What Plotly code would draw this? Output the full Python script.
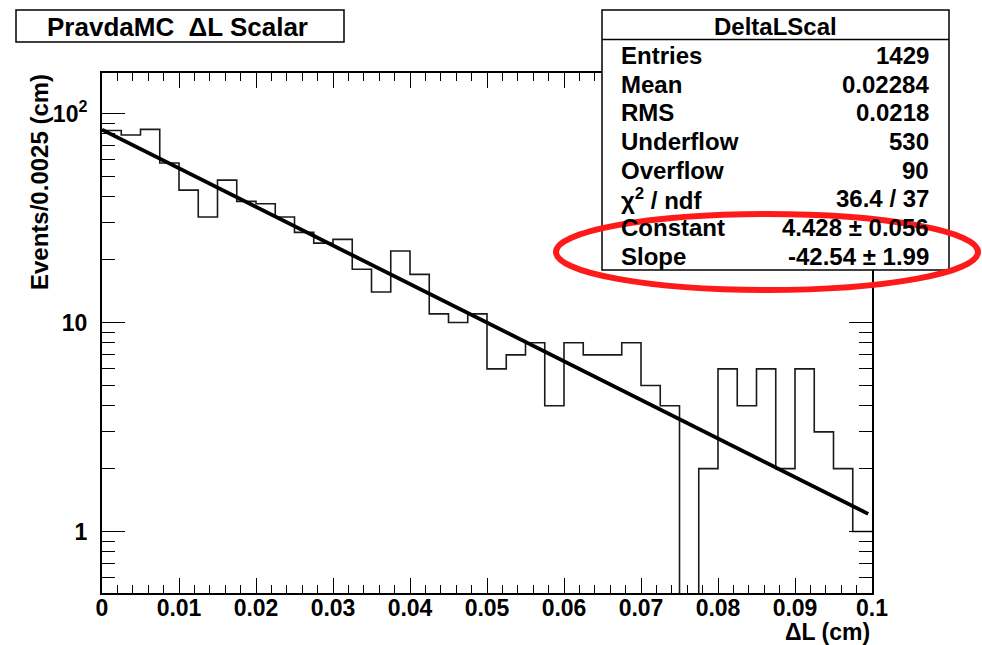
import numpy as np
import plotly.graph_objects as go

# ---- data -------------------------------------------------------------
bin_width = 0.0025
n_bins = 40
counts = [83, 79, 84, 58, 43, 32, 48, 38, 37, 32,
          27, 24, 25, 18, 14, 22, 17, 11, 10, 11,
          6, 7, 8, 4, 8, 7, 7, 8, 5, 4,
          0, 2, 6, 4, 6, 2, 6, 3, 2, 1]

# exponential fit exp(constant + slope * x)
fit_constant = 4.428
fit_slope = -42.54
fit_xmin, fit_xmax = 0.0, 0.0995

stat_title = "DeltaLScal"
stat_labels = ["Entries", "Mean", "RMS", "Underflow", "Overflow",
               "\u03c7<sup>2</sup> / ndf", "Constant", "Slope"]
stat_values = ["1429", "0.02284", "0.0218", "530", "90", "36.4 / 37",
               "4.428 \u00b1 0.056", "-42.54 \u00b1 1.99"]

x_tick_vals = [0, 0.01, 0.02, 0.03, 0.04, 0.05, 0.06, 0.07, 0.08, 0.09, 0.1]
x_tick_text = ["0", "0.01", "0.02", "0.03", "0.04", "0.05", "0.06", "0.07",
               "0.08", "0.09", "0.1"]
y_tick_vals = [1, 10, 100]
y_tick_text = ["1", "10", "10<sup>2</sup>"]
y_minor_vals = [0.6, 0.7, 0.8, 0.9, 2, 3, 4, 5, 6, 7, 8, 9,
                20, 30, 40, 50, 60, 70, 80, 90]

# ---- figure geometry ----------------------------------------------------
W, H = 982, 645
L, R, T, B = 102, 110, 73, 52
PW, PH = W - L - R, H - T - B
Y_LOG_RANGE = [-0.294, 2.194]

def px(xp):
    return (xp - L) / PW

def py(yp):
    return (H - B - yp) / PH

FONT = "Liberation Sans, Arial, Helvetica, sans-serif"

# ---- histogram outline ---------------------------------------------------
edges = np.arange(n_bins + 1) * bin_width
floor = 10 ** (Y_LOG_RANGE[0] - 1)          # empty bins drop below the frame
vals = np.array(counts, dtype=float)
vals[vals <= 0] = floor
step_x = np.concatenate([edges[:-1], edges[-1:]])
step_y = np.concatenate([vals, vals[-1:]])

fit_x = np.linspace(fit_xmin, fit_xmax, 100)
fit_y = np.exp(fit_constant + fit_slope * fit_x)

fig = go.Figure()
fig.add_trace(go.Scatter(x=step_x, y=step_y, mode="lines",
                         line=dict(shape="hv", color="#1a1a1a", width=1.6),
                         hoverinfo="skip", showlegend=False))
fig.add_trace(go.Scatter(x=fit_x, y=fit_y, mode="lines",
                         line=dict(color="black", width=3.8),
                         hoverinfo="skip", showlegend=False))

fig.update_layout(
    width=W, height=H,
    margin=dict(l=L, r=R, t=T, b=B),
    paper_bgcolor="white", plot_bgcolor="white",
    showlegend=False,
    xaxis=dict(range=[0, 0.1], tickvals=x_tick_vals, ticktext=x_tick_text,
               ticks="inside", ticklen=15, tickwidth=1.2, tickcolor="black",
               showline=True, linecolor="black", linewidth=2, mirror="ticks",
               showgrid=False, zeroline=False, ticklabelstandoff=-7,
               tickfont=dict(family=FONT, size=23, color="black", weight="bold"),
               minor=dict(dtick=0.002, tick0=0, ticks="inside", ticklen=8,
                          tickwidth=1.2, tickcolor="black", showgrid=False)),
    yaxis=dict(type="log", range=Y_LOG_RANGE, tickvals=y_tick_vals,
               ticktext=y_tick_text,
               ticks="inside", ticklen=23, tickwidth=1.2, tickcolor="black",
               showline=True, linecolor="black", linewidth=2, mirror="ticks",
               showgrid=False, zeroline=False, ticklabelstandoff=8,
               tickfont=dict(family=FONT, size=23, color="black", weight="bold"),
               minor=dict(tickmode="array", tickvals=y_minor_vals,
                          ticks="inside", ticklen=13, tickwidth=1.2,
                          tickcolor="black", showgrid=False)),
)

shapes = []
annotations = []

# title box
shapes.append(dict(type="rect", xref="paper", yref="paper",
                   x0=px(16), x1=px(344), y0=py(42), y1=py(10),
                   line=dict(color="black", width=1.5), fillcolor="white",
                   layer="above"))
annotations.append(dict(xref="paper", yref="paper", x=px(177), y=py(26.5),
                        text="PravdaMC  \u0394L Scalar", showarrow=False,
                        xanchor="center", yanchor="middle",
                        font=dict(family=FONT, size=26, color="black",
                                  weight="bold")))

# statistics box
box_l, box_r, box_t, box_b = 602, 949, 10, 270
shapes.append(dict(type="rect", xref="paper", yref="paper",
                   x0=px(box_l), x1=px(box_r), y0=py(box_b), y1=py(box_t),
                   line=dict(color="black", width=1.5), fillcolor="white",
                   layer="above"))
shapes.append(dict(type="line", xref="paper", yref="paper",
                   x0=px(box_l), x1=px(box_r), y0=py(39.5), y1=py(39.5),
                   line=dict(color="black", width=1.5), layer="above"))
annotations.append(dict(xref="paper", yref="paper", x=px(775.5), y=py(26),
                        text=stat_title, showarrow=False,
                        xanchor="center", yanchor="middle",
                        font=dict(family=FONT, size=24, color="black",
                                  weight="bold")))
row0, row_step = 55.3, 28.7
for i, (lab, val) in enumerate(zip(stat_labels, stat_values)):
    yy = py(row0 + i * row_step)
    annotations.append(dict(xref="paper", yref="paper", x=px(619), y=yy,
                            text=lab, showarrow=False,
                            xanchor="left", yanchor="middle",
                            font=dict(family=FONT, size=24, color="black",
                                      weight="bold")))
    annotations.append(dict(xref="paper", yref="paper", x=px(931), y=yy,
                            text=val, showarrow=False,
                            xanchor="right", yanchor="middle",
                            font=dict(family=FONT, size=24, color="black",
                                      weight="bold")))

# red highlight ring around the fit parameters
shapes.append(dict(type="circle", xref="paper", yref="paper",
                   x0=px(556), x1=px(978), y0=py(290), y1=py(214),
                   line=dict(color="#ff1a1a", width=6),
                   fillcolor="rgba(0,0,0,0)", layer="above"))

# axis titles
annotations.append(dict(xref="paper", yref="paper", x=px(872), y=py(632),
                        text="\u0394L (cm)", showarrow=False,
                        xanchor="right", yanchor="middle",
                        font=dict(family=FONT, size=23, color="black",
                                  weight="bold")))
annotations.append(dict(xref="paper", yref="paper", x=px(39), y=py(72),
                        text="Events/0.0025 (cm)", showarrow=False,
                        textangle=-90, xanchor="center", yanchor="top",
                        font=dict(family=FONT, size=24, color="black",
                                  weight="bold")))

fig.update_layout(shapes=shapes, annotations=annotations)
fig.write_html("out.html")
